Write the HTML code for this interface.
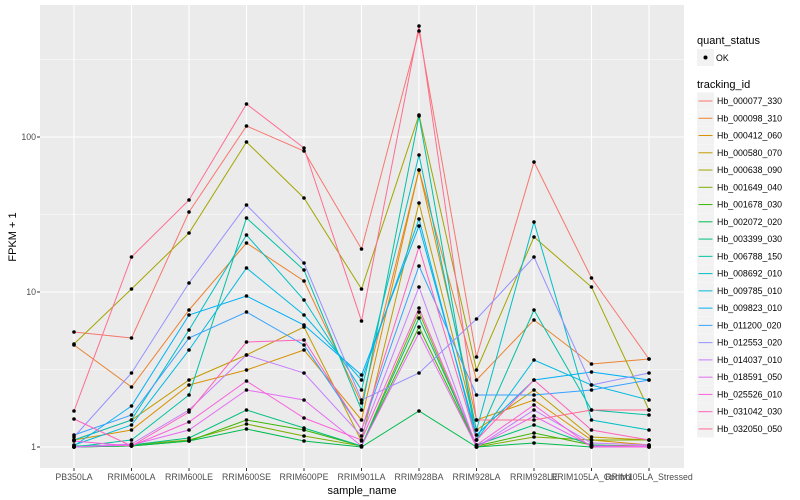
<!DOCTYPE html>
<html><head><meta charset="utf-8"><style>
body{margin:0;background:#fff;}
svg{display:block;font-family:"Liberation Sans",sans-serif;}
</style></head><body>
<svg width="800" height="500" viewBox="0 0 800 500" xmlns="http://www.w3.org/2000/svg">
<rect x="40" y="5" width="644" height="463" fill="#EBEBEB"/>
<g stroke="#fff" stroke-width="0.55">
<line x1="40" x2="684" y1="369.5" y2="369.5"/><line x1="40" x2="684" y1="214.5" y2="214.5"/><line x1="40" x2="684" y1="59.5" y2="59.5"/>
</g>
<g stroke="#fff" stroke-width="1.1">
<line x1="40" x2="684" y1="447" y2="447"/><line x1="40" x2="684" y1="292" y2="292"/><line x1="40" x2="684" y1="137" y2="137"/>
<g id="vg"></g>
</g>
<g id="series" fill="none" stroke-width="1"></g>
<g id="pts" fill="#000"></g>
<g fill="#4D4D4D" font-size="8.8" text-anchor="end">
<text x="36" y="450">1</text><text x="36" y="295">10</text><text x="36" y="140">100</text>
</g>
<g stroke="#333" stroke-width="1">
<line x1="37" x2="40" y1="447" y2="447"/><line x1="37" x2="40" y1="292" y2="292"/><line x1="37" x2="40" y1="137" y2="137"/>
</g>
<g fill="#4D4D4D" font-size="8.8" text-anchor="middle">
<text x="74" y="480">PB350LA</text>
<text x="131.5" y="480">RRIM600LA</text>
<text x="189" y="480">RRIM600LE</text>
<text x="246.5" y="480">RRIM600SE</text>
<text x="304" y="480">RRIM600PE</text>
<text x="361.5" y="480">RRIM901LA</text>
<text x="419" y="480">RRIM928BA</text>
<text x="476.5" y="480">RRIM928LA</text>
<text x="534" y="480">RRIM928LE</text>
<text x="591.5" y="480">RRIM105LA_Control</text>
<text x="649" y="480">RRIM105LA_Stressed</text>
</g>
<text x="362" y="494" font-size="11" text-anchor="middle">sample_name</text>
<text transform="translate(16,237) rotate(-90)" font-size="11" text-anchor="middle">FPKM + 1</text>
<text x="697" y="44" font-size="11">quant_status</text>
<rect x="697" y="49" width="17" height="17" fill="#F2F2F2"/>
<circle cx="705.5" cy="57.5" r="2" fill="#000"/>
<text x="716" y="61" font-size="8.8">OK</text>
<text x="697" y="88" font-size="11">tracking_id</text>
<g id="leg" font-size="8.8">
<text x="717" y="104">Hb_000077_330</text>
<text x="717" y="121.3">Hb_000098_310</text>
<text x="717" y="138.5">Hb_000412_060</text>
<text x="717" y="155.8">Hb_000580_070</text>
<text x="717" y="173">Hb_000638_090</text>
<text x="717" y="190.3">Hb_001649_040</text>
<text x="717" y="207.6">Hb_001678_030</text>
<text x="717" y="224.8">Hb_002072_020</text>
<text x="717" y="242.1">Hb_003399_030</text>
<text x="717" y="259.3">Hb_006788_150</text>
<text x="717" y="276.6">Hb_008692_010</text>
<text x="717" y="293.9">Hb_009785_010</text>
<text x="717" y="311.1">Hb_009823_010</text>
<text x="717" y="328.4">Hb_011200_020</text>
<text x="717" y="345.6">Hb_012553_020</text>
<text x="717" y="362.9">Hb_014037_010</text>
<text x="717" y="380.2">Hb_018591_050</text>
<text x="717" y="397.4">Hb_025526_010</text>
<text x="717" y="414.7">Hb_031042_030</text>
<text x="717" y="431.9">Hb_032050_050</text>
</g>
<g id="legkeys"></g>
<script>
var NS="http://www.w3.org/2000/svg";
var cols=["#F8766D","#EA8331","#D89000","#C09B00","#A3A500","#7CAE00","#39B600","#00BB4E","#00BF7D","#00C1A3","#00BFC4","#00BAE0","#00B0F6","#35A2FF","#9590FF","#C77CFF","#E76BF3","#FA62DB","#FF62BC","#FF6C91"];
var d=[
[332,338,212,126,151,249,31,357,162,278,359],
[345,387,310,243,281,403,170,380,320,364,359],
[440,430,385,370,350,420,170,420,400,440,445],
[440,420,380,355,327,441,203,430,390,437,440],
[344,289,233,142,198,289,115,370,237,287,410],
[447,445,440,424,436,446,312,447,437,440,440],
[447,446,441,420,430,446,327,446,433,445,446],
[447,446,441,429,441,447,411,447,443,447,447],
[446,445,438,410,428,446,318,445,425,445,447],
[447,440,395,218,270,410,116,440,310,410,415],
[440,420,330,235,300,390,155,430,222,420,430],
[445,425,350,268,315,380,219,440,360,385,400],
[446,406,315,296,325,375,226,435,380,372,380],
[435,415,338,312,345,430,266,395,395,390,380],
[437,373,283,205,263,400,373,319,257,385,373],
[447,444,410,355,373,436,287,447,410,443,445],
[447,445,430,390,400,446,333,447,416,446,446],
[441,446,422,381,418,440,308,445,405,447,447],
[419,446,412,342,340,430,247,440,380,430,440],
[411,257,200,104,148,321,26,420,420,410,410]];
function X(i){return 74+i*57.5;}
var vg=document.getElementById("vg");
for(var i=0;i<11;i++){var l=document.createElementNS(NS,"line");l.setAttribute("x1",X(i));l.setAttribute("x2",X(i));l.setAttribute("y1",5);l.setAttribute("y2",468);vg.appendChild(l);
var t=document.createElementNS(NS,"line");t.setAttribute("x1",X(i));t.setAttribute("x2",X(i));t.setAttribute("y1",468);t.setAttribute("y2",471);t.setAttribute("stroke","#333");document.getElementById("pts").appendChild(t);}
var sg=document.getElementById("series"),pg=document.getElementById("pts"),lk=document.getElementById("legkeys");
d.forEach(function(s,k){var p=s.map(function(y,i){return X(i)+","+y;}).join(" ");
var pl=document.createElementNS(NS,"polyline");pl.setAttribute("points",p);pl.setAttribute("stroke",cols[k]);sg.appendChild(pl);
s.forEach(function(y,i){var c=document.createElementNS(NS,"circle");c.setAttribute("cx",X(i));c.setAttribute("cy",y);c.setAttribute("r",1.8);pg.appendChild(c);});
var yy=92.5+k*17.26;var r=document.createElementNS(NS,"rect");r.setAttribute("x",697);r.setAttribute("y",yy);r.setAttribute("width",17);r.setAttribute("height",17);r.setAttribute("fill","#F2F2F2");lk.appendChild(r);
var ll=document.createElementNS(NS,"line");ll.setAttribute("x1",698.5);ll.setAttribute("x2",712.5);ll.setAttribute("y1",yy+8.5);ll.setAttribute("y2",yy+8.5);ll.setAttribute("stroke",cols[k]);ll.setAttribute("stroke-width",1);lk.appendChild(ll);});
</script>
</svg>
</body></html>
